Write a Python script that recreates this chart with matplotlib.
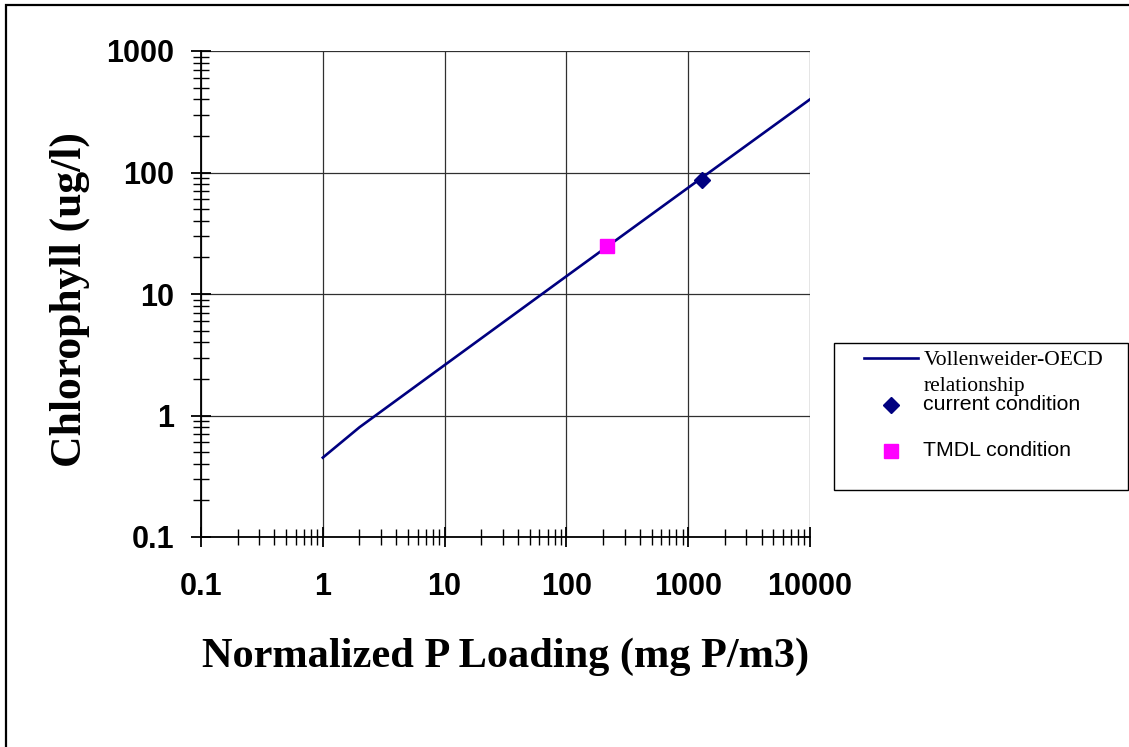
import matplotlib
matplotlib.use('Agg')
import matplotlib.pyplot as plt
from matplotlib.patches import Rectangle
from matplotlib.lines import Line2D
from matplotlib.ticker import LogLocator, FixedLocator, FixedFormatter, NullFormatter

# data
p_loading = [1, 2, 10, 100, 1000, 10000]
chl_curve = [0.45, 0.8, 2.6, 14, 75, 400]
current_p = [1290]
current_chl = [86]
tmdl_p = [215]
tmdl_chl = [25]

tick_values = [0.1, 1, 10, 100, 1000, 10000]
tick_labels = ['0.1', '1', '10', '100', '1000', '10000']

W, H = 1129, 747
fig = plt.figure(figsize=(W / 100, H / 100), dpi=100)
ax = fig.add_axes([201 / W, 1 - 537 / H, (810 - 201) / W, (537 - 51) / H])

navy = '#000080'
ax.plot(p_loading, chl_curve, color=navy, lw=1.9, zorder=3)
ax.plot(current_p, current_chl, ls='none', marker='D', ms=8.5, color=navy, zorder=4)
ax.plot(tmdl_p, tmdl_chl, ls='none', marker='s', ms=10.5, color='#FF00FF', zorder=4)

ax.set_xscale('log')
ax.set_yscale('log')
ax.set_xlim(0.1, 10000)
ax.set_ylim(0.1, 1000)

for spine in ['top', 'right']:
    ax.spines[spine].set_visible(False)
for spine in ['left', 'bottom']:
    ax.spines[spine].set_linewidth(1.3)

ax.xaxis.set_major_locator(FixedLocator(tick_values))
ax.xaxis.set_major_formatter(FixedFormatter(tick_labels))
ax.yaxis.set_major_locator(FixedLocator(tick_values[:5]))
ax.yaxis.set_major_formatter(FixedFormatter(tick_labels[:5]))
ax.xaxis.set_minor_locator(LogLocator(base=10, subs=range(2, 10), numticks=20))
ax.yaxis.set_minor_locator(LogLocator(base=10, subs=range(2, 10), numticks=20))
ax.xaxis.set_minor_formatter(NullFormatter())
ax.yaxis.set_minor_formatter(NullFormatter())

ax.tick_params(which='major', direction='inout', length=14, width=1.3, color='black')
ax.tick_params(which='minor', direction='inout', length=11, width=1.0, color='black')
ax.tick_params(axis='x', which='major', pad=18)
ax.tick_params(axis='y', which='major', pad=12)
for lab in ax.get_xticklabels() + ax.get_yticklabels():
    lab.set_fontfamily('Liberation Sans')
    lab.set_fontweight('bold')
    lab.set_fontsize(22)

ax.grid(True, which='major', color='#303030', lw=0.9)
ax.set_axisbelow(True)

ax.set_xlabel('Normalized P Loading (mg P/m3)', fontfamily='Liberation Serif',
              fontweight='bold', fontsize=30.5, labelpad=26)
ax.set_ylabel('Chlorophyll (ug/l)', fontfamily='Liberation Serif',
              fontweight='bold', fontsize=31.5)
ax.yaxis.set_label_coords(-0.182, 0.488)

# outer chart border
fig.patches.append(Rectangle((6 / W, -0.02), 1.1, 1 - 5 / H + 0.02,
                             transform=fig.transFigure, fill=False,
                             edgecolor='black', lw=1.6, clip_on=False))

# legend box drawn by hand
fig.patches.append(Rectangle((834 / W, 1 - 490 / H), (1128 - 834) / W, (490 - 343) / H,
                             transform=fig.transFigure, fill=False,
                             edgecolor='black', lw=1.0))
fig.lines.append(Line2D([864 / W, 918 / W], [1 - 358 / H, 1 - 358 / H],
                        transform=fig.transFigure, color=navy, lw=1.9))
fig.text(924 / W, 1 - 365 / H, 'Vollenweider-OECD', fontfamily='Liberation Serif',
         fontsize=15.5, va='baseline', ha='left')
fig.text(924 / W, 1 - 391 / H, 'relationship', fontfamily='Liberation Serif',
         fontsize=15.5, va='baseline', ha='left')
fig.lines.append(Line2D([891 / W], [1 - 405 / H], transform=fig.transFigure,
                        ls='none', marker='D', ms=8, color=navy))
fig.text(923 / W, 1 - 405 / H, 'current condition', fontfamily='Liberation Sans',
         fontsize=15.3, va='center', ha='left')
fig.lines.append(Line2D([891 / W], [1 - 451 / H], transform=fig.transFigure,
                        ls='none', marker='s', ms=10, color='#FF00FF'))
fig.text(923 / W, 1 - 451 / H, 'TMDL condition', fontfamily='Liberation Sans',
         fontsize=15.3, va='center', ha='left')

fig.savefig('out.png', dpi=100)
